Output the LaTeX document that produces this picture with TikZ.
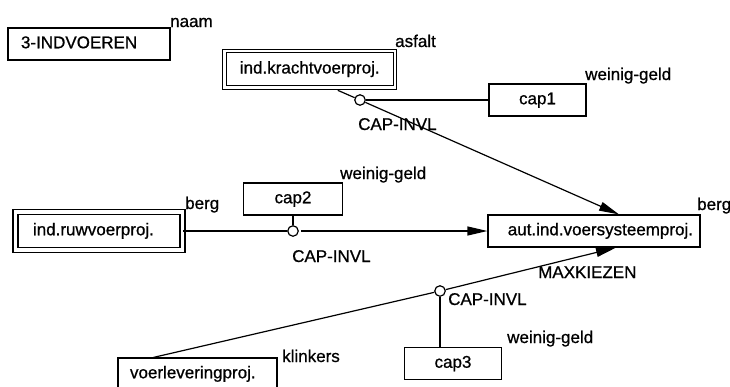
\documentclass[tikz,border=0pt]{standalone}
\usepackage{fontspec}
\setmainfont{Liberation Sans}[FakeBold=0.8]
\usetikzlibrary{arrows.meta}

\tikzset{
  entity/.style={rectangle, draw, line width=1.2pt, minimum height=32pt, inner ysep=0pt, text height=12pt, text depth=3.5pt},
  dblentity/.style={entity, double, double distance=#1},
  junction/.style={circle, draw, fill=white, line width=1.2pt, minimum size=10.5pt, inner sep=0pt},
  tag/.style={anchor=base west, inner sep=0pt},
  link/.style={line width=1.2pt},
  flow/.style={link, -{Triangle[length=20pt, width=9pt]}}
}

\begin{document}
\begin{tikzpicture}[x=1pt, y=-1pt, every node/.append style={font=\fontsize{17}{20}\selectfont}]

         \useasboundingbox (0,0) rectangle (730,386);

         \node [entity, align=left, inner xsep=13pt, text width=136pt]                         (indvoeren) at (89,44)        {3-INDVOEREN};
         \node [dblentity=2.4pt, minimum width=170.5pt, minimum height=36.5pt]                  (kracht)    at (309.75,69.25) {ind.krachtvoerproj.};
         \node [entity, minimum width=97pt]                                                    (cap1)      at (537.5,100)    {cap1};
         \node [dblentity=3.8pt, align=left, inner xsep=17.5pt, text width=132pt, minimum height=37.5pt] (ruwvoer) at (99,231) {ind.ruwvoerproj.};
         \node [entity, minimum width=99pt]                                                    (cap2)      at (293,199)      {cap2};
         \node [entity, align=right, inner xsep=7pt, text width=198pt]                          (aut)       at (594,231)      {aut.ind.voersysteemproj.};
         \node [entity, minimum width=97pt]                                                    (cap3)      at (453,363.5)    {cap3};
         \node [entity, align=left, inner xsep=12pt, text width=135pt]                          (voer)      at (197.5,374)    {voerleveringproj.};

         \node [junction] (inv1) at (360,100) {};
         \node [junction] (inv2) at (293,231) {};
         \node [junction] (inv3) at (440,291) {};

         \node [tag] (naam)      at (170,27)  {naam};
         \node [tag] (asfalt)    at (395,47)  {asfalt};
         \node [tag] (geld1)     at (585,80)  {weinig-geld};
         \node [tag] (geld2)     at (340,179) {weinig-geld};
         \node [tag] (geld3)     at (507,343) {weinig-geld};
         \node [tag] (bergruw)   at (185,209) {berg};
         \node [tag] (bergaut)   at (697,210) {berg};
         \node [tag] (klinkers)  at (282,362) {klinkers};
         \node [tag] (invl1)     at (358,130) {CAP-INVL};
         \node [tag] (invl2)     at (292,262) {CAP-INVL};
         \node [tag] (invl3)     at (448,305) {CAP-INVL};
         \node [tag] (maxkiezen) at (538,278) {MAXKIEZEN};

         \draw [flow] ([xshift=28pt, yshift=-2.2pt]kracht.south) -- (inv1) -- ([xshift=25pt]aut.north);
         \draw [link] (inv1) -- (cap1);
         \draw [flow, shorten <=2.5pt] (ruwvoer) -- (inv2) -- (aut);
         \draw [link] (cap2) -- (inv2);
         \draw [flow] ([xshift=-44pt]voer.north) -- (inv3) -- ([xshift=22pt]aut.south);
         \draw [link] (inv3) -- (inv3 |- cap3.north);

\end{tikzpicture}
\end{document}
